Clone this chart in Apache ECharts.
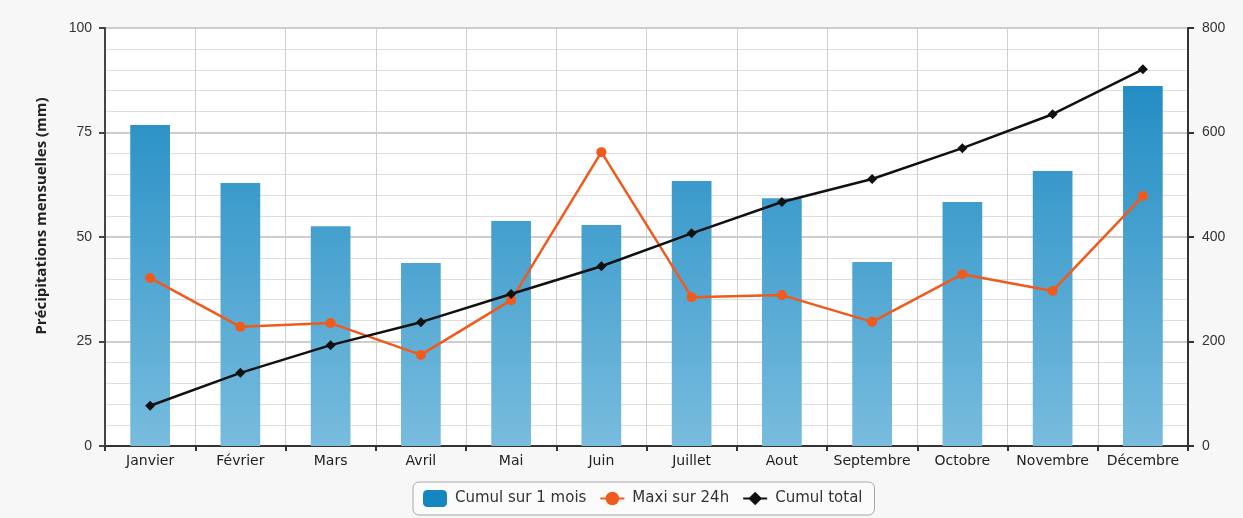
<!DOCTYPE html>
<html>
<head>
<meta charset="utf-8">
<script src="https://cdn.jsdelivr.net/npm/echarts@6/dist/echarts.min.js"></script>
<style>
html,body{margin:0;padding:0;background:#f7f7f7;}
#c{width:1243px;height:518px;}
</style>
</head>
<body>
<div id="c"></div>
<script>
const categories = ['Janvier','Février','Mars','Avril','Mai','Juin','Juillet','Aout','Septembre','Octobre','Novembre','Décembre'];
const cumulMois = [76.8, 62.9, 52.6, 43.8, 53.8, 52.9, 63.4, 59.3, 44.0, 58.4, 65.8, 86.1];
const maxi24h = [40.2, 28.5, 29.4, 21.8, 34.9, 70.3, 35.6, 36.1, 29.7, 41.1, 37.1, 59.8];
const cumulTotal = [77, 140, 193, 237, 291, 344, 407, 467, 511, 570, 635, 721];
const leftTicks = [0, 25, 50, 75, 100];
const rightTicks = [0, 200, 400, 600, 800];

const chart = echarts.init(document.getElementById('c'), null, {renderer:'canvas'});
const font = 'DejaVu Sans';
chart.setOption({
  backgroundColor: '#f7f7f7',
  animation: false,
  grid: {left:105, right:55, top:28, bottom:72, show:true, backgroundColor:'#ffffff', borderWidth:0},
  legend: {
    bottom: 3, left: 413,
    borderColor: '#a8a8a8', borderWidth: 1, borderRadius: 6,
    backgroundColor: '#fbfbfb',
    padding: [8, 12, 8, 10], itemGap: 13,
    itemWidth: 24, itemHeight: 17,
    textStyle: {fontFamily: font, fontSize: 15, color: '#333', padding: [0,0,0,3]},
    data: ['Cumul sur 1 mois', 'Maxi sur 24h', 'Cumul total']
  },
  xAxis: {
    type: 'category', data: categories, boundaryGap: true,
    axisLine: {lineStyle: {color: '#333', width: 2}},
    axisTick: {show: true, length: 5, lineStyle: {color: '#333', width: 2}},
    axisLabel: {fontFamily: font, fontSize: 14, color: '#222', margin: 8, interval: 0},
    splitLine: {show: true, lineStyle: {color: '#cfcfcf', width: 1}}
  },
  yAxis: [{
    type: 'value', min: leftTicks[0], max: leftTicks[leftTicks.length-1], interval: 25,
    name: 'Précipitations mensuelles (mm)', nameLocation: 'middle', nameGap: 56, nameRotate: 90,
    nameTextStyle: {fontFamily: 'Open Sans', fontSize: 15, fontWeight: 'bold', color: '#222', padding: [0,0,0,42]},
    axisLine: {show: true, lineStyle: {color: '#444', width: 2}},
    axisTick: {show: true, length: 6, lineStyle: {color: '#444', width: 2}},
    axisLabel: {fontFamily: 'Liberation Sans', fontSize: 14, color: '#333', margin: 13},
    splitLine: {show: true, lineStyle: {color: '#bdbdbd', width: 1.5}},
    minorTick: {show: false, splitNumber: 5},
    minorSplitLine: {show: true, lineStyle: {color: '#dedede', width: 1}}
  }, {
    type: 'value', min: rightTicks[0], max: rightTicks[rightTicks.length-1], interval: 200,
    position: 'right',
    axisLine: {show: true, lineStyle: {color: '#333', width: 2}},
    axisTick: {show: true, length: 6, lineStyle: {color: '#333', width: 2}},
    axisLabel: {fontFamily: 'Liberation Sans', fontSize: 14, color: '#333', margin: 14},
    splitLine: {show: false}
  }],
  series: [{
    name: 'Cumul sur 1 mois', type: 'bar', yAxisIndex: 0, data: cumulMois,
    barWidth: '44%',
    itemStyle: {color: new echarts.graphic.LinearGradient(0, 28, 0, 446, [
      {offset:0, color:'#1686c0'}, {offset:1, color:'#78bcde'}], true)}
  }, {
    name: 'Maxi sur 24h', type: 'line', yAxisIndex: 0, data: maxi24h,
    symbol: 'circle', symbolSize: 10,
    lineStyle: {color: '#f05a1c', width: 2.5},
    itemStyle: {color: '#f05a1c'}
  }, {
    name: 'Cumul total', type: 'line', yAxisIndex: 1, data: cumulTotal,
    symbol: 'diamond', symbolSize: 10,
    lineStyle: {color: '#111', width: 2.5},
    itemStyle: {color: '#111'}
  }]
});
</script>
</body>
</html>
